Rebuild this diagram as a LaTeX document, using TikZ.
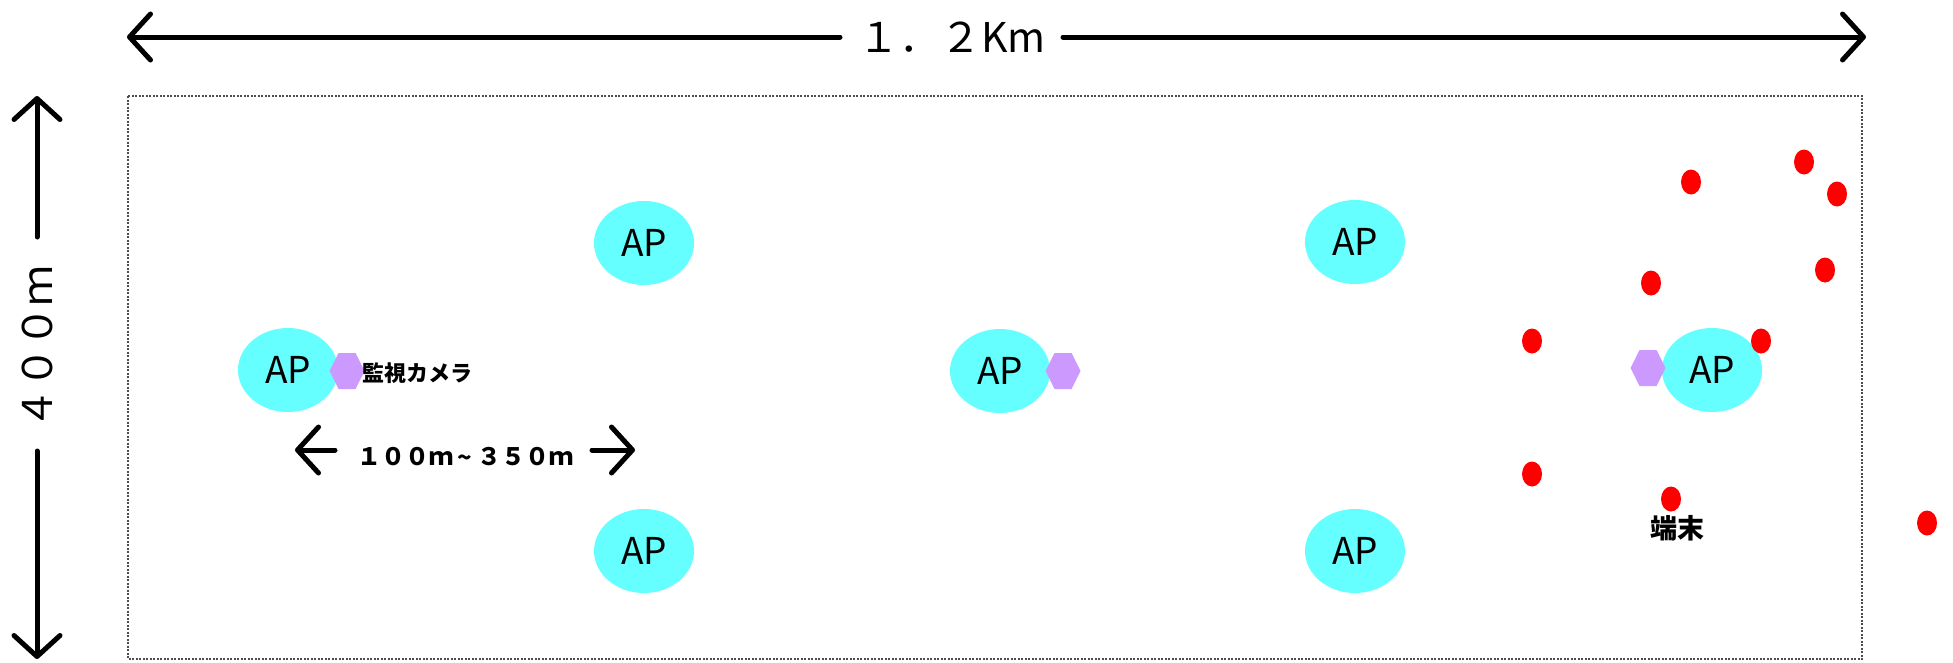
\documentclass[tikz,border=0pt]{standalone}
\usepackage{fontspec}
\setmainfont{Noto Sans CJK JP}
\usetikzlibrary{arrows.meta,shapes.geometric}
\definecolor{apcol}{HTML}{66FFFF}
\definecolor{hexcol}{HTML}{CC99FF}
\definecolor{termcol}{HTML}{FF0000}
\definecolor{framecol}{HTML}{4D4D4D}
\tikzset{
  dimline/.style={line width=5pt, line cap=round},
  dimtip/.style={-{Straight Barb[length=21pt,width=46pt,round]}},
  apnode/.style={ellipse, fill=apcol, minimum width=100pt, minimum height=84pt, inner sep=0pt, font=\fontsize{37}{37}\selectfont},
  termnode/.style={ellipse, fill=termcol, minimum width=20pt, minimum height=25pt, inner sep=0pt},
  hexa/.pic={\fill[hexcol] (-17.5,0) -- (-8.5,-18) -- (8.5,-18) -- (17.5,0) -- (8.5,18) -- (-8.5,18) -- cycle;},
  frame/.style={draw=framecol, line width=1.5pt, dash pattern=on 2pt off 1.5pt},
  biglabel/.style={font=\fontsize{41}{41}\selectfont, inner sep=0pt},
  jplabel/.style={font=\bfseries\fontsize{#1}{#1}\selectfont, inner sep=0pt}
}
\begin{document}
\begin{tikzpicture}[x=1pt,y=-1pt]
\useasboundingbox (0,0) rectangle (1953,662);
% frame
\draw[frame] (128,96) rectangle (1862,659);
% top dimension
\coordinate (tl) at (127,37);
\coordinate (tr) at (1866,37);
\coordinate (tla) at (840,37);
\coordinate (tra) at (1063,37);
\node[biglabel, anchor=base] (wlab) at (952,52) {１．２Km};
\draw[dimline, dimtip] (tla) -- (tl);
\draw[dimline, dimtip] (tra) -- (tr);
% left dimension
\coordinate (vt) at (37,96);
\coordinate (vb) at (37,659);
\coordinate (vta) at (37,237);
\coordinate (vba) at (37,451);
\node[biglabel, rotate=90, anchor=base] (hlab) at (52,347) {４００ｍ};
\draw[dimline, dimtip] (vta) -- (vt);
\draw[dimline, dimtip] (vba) -- (vb);
% spacing dimension
\coordinate (sl) at (295,450);
\coordinate (sla) at (335,450);
\coordinate (sr) at (635,450);
\coordinate (sra) at (592,450);
\node[inner sep=0pt, anchor=base, font=\bfseries\fontsize{24}{24}\selectfont] (slab) at (465,465) {１００ｍ\makebox[1em]{\raisebox{-1pt}{\symbol{126}}}３５０ｍ};
\draw[dimline, dimtip] (sla) -- (sl);
\draw[dimline, dimtip] (sra) -- (sr);
% access points
\node[apnode] (ap1) at (644,243) {AP};
\node[apnode] (ap2) at (1355,242) {AP};
\node[apnode] (ap3) at (288,370) {AP};
\node[apnode] (ap4) at (1000,371) {AP};
\node[apnode] (ap5) at (1712,370) {AP};
\node[apnode] (ap6) at (644,551) {AP};
\node[apnode] (ap7) at (1355,551) {AP};
% cameras
\pic (cam1) at (347,371) {hexa};
\pic (cam2) at (1063,371) {hexa};
\pic (cam3) at (1648,368) {hexa};
\node[jplabel=22] (camlab) at (417,373) {監視カメラ};
% terminals
\node[termnode] (t1) at (1691,182) {};
\node[termnode] (t2) at (1804,162) {};
\node[termnode] (t3) at (1837,194) {};
\node[termnode] (t4) at (1651,283) {};
\node[termnode] (t5) at (1825,270) {};
\node[termnode] (t6) at (1532,341) {};
\node[termnode] (t7) at (1761,341) {};
\node[termnode] (t8) at (1532,474) {};
\node[termnode] (t9) at (1671,499) {};
\node[termnode] (t10) at (1927,523) {};
\node[jplabel=27] (termlab) at (1677,528) {端末};
\end{tikzpicture}
\end{document}
